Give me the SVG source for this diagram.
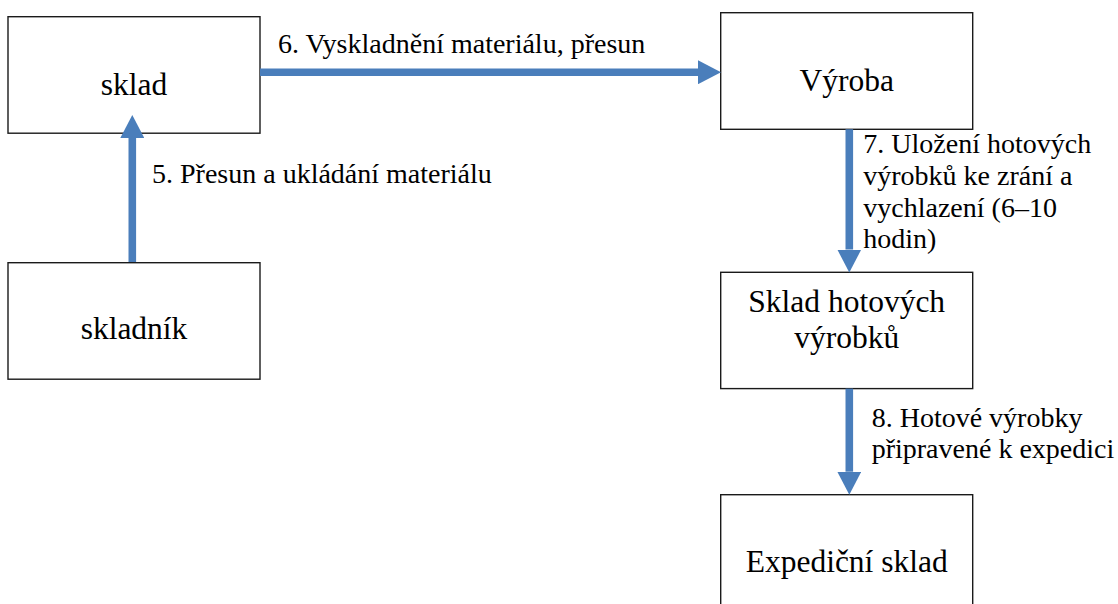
<svg xmlns="http://www.w3.org/2000/svg" width="1118" height="604" viewBox="0 0 1118 604">
  <style>
    .box { fill: #ffffff; stroke: #1a1a1a; stroke-width: 1.4; }
    .name { font-size: 31.5px; fill: #000; text-anchor: middle; }
    .lbl { font-size: 28px; fill: #000; }
    .flow { stroke: #4A7EBB; stroke-width: 7.6; fill: none; marker-end: url(#head); }
  </style>
  <defs>
    <marker id="head" markerUnits="userSpaceOnUse" markerWidth="23" markerHeight="24" refX="0" refY="12" orient="auto" viewBox="0 0 23 24">
      <path d="M0,0 L23,12 L0,24 Z" fill="#4A7EBB"/>
    </marker>
  </defs>

  <rect width="1118" height="604" fill="#ffffff"/>

  <g font-family="'Liberation Serif', 'Times New Roman', Tinos, 'DejaVu Serif', serif">
    <!-- boxes -->
    <g id="node-sklad">
      <rect class="box" x="8" y="16.7" width="252" height="116.5"/>
      <text class="name" x="134" y="95">sklad</text>
    </g>
    <g id="node-skladnik">
      <rect class="box" x="8" y="262.7" width="252" height="116.5"/>
      <text class="name" x="134" y="339.3">skladník</text>
    </g>
    <g id="node-vyroba">
      <rect class="box" x="720.7" y="12.7" width="252" height="116.6"/>
      <text class="name" x="846.7" y="90.7">Výroba</text>
    </g>
    <g id="node-sklad-hotovych">
      <rect class="box" x="720.7" y="272.3" width="252" height="116.3"/>
      <text class="name" x="846.7" y="311.7">Sklad hotových</text>
      <text class="name" x="846.7" y="348.3">výrobků</text>
    </g>
    <g id="node-expedicni">
      <rect class="box" x="720.7" y="494.7" width="252" height="130"/>
      <text class="name" x="846.7" y="571.7">Expediční sklad</text>
    </g>

    <!-- connectors -->
    <g id="connectors">
      <line class="flow" x1="132.3" y1="262" x2="132.3" y2="138"/>
      <line class="flow" x1="260" y1="72.2" x2="698" y2="72.2"/>
      <line class="flow" x1="849.3" y1="129.3" x2="849.3" y2="249.5"/>
      <line class="flow" x1="849.3" y1="388.6" x2="849.3" y2="471.7"/>
    </g>

    <!-- connector labels -->
    <g id="labels">
      <text class="lbl" x="152" y="183.3">5. Přesun a ukládání materiálu</text>
      <text class="lbl" x="278" y="53.3">6. Vyskladnění materiálu, přesun</text>
      <text class="lbl" x="863.3" y="153.3">7. Uložení hotových</text>
      <text class="lbl" x="863.3" y="185">výrobků ke zrání a</text>
      <text class="lbl" x="863.3" y="216.7">vychlazení (6–10</text>
      <text class="lbl" x="863.3" y="248.3">hodin)</text>
      <text class="lbl" x="871.7" y="426.7">8. Hotové výrobky</text>
      <text class="lbl" x="871.7" y="458.3">připravené k expedici</text>
    </g>
  </g>
</svg>
